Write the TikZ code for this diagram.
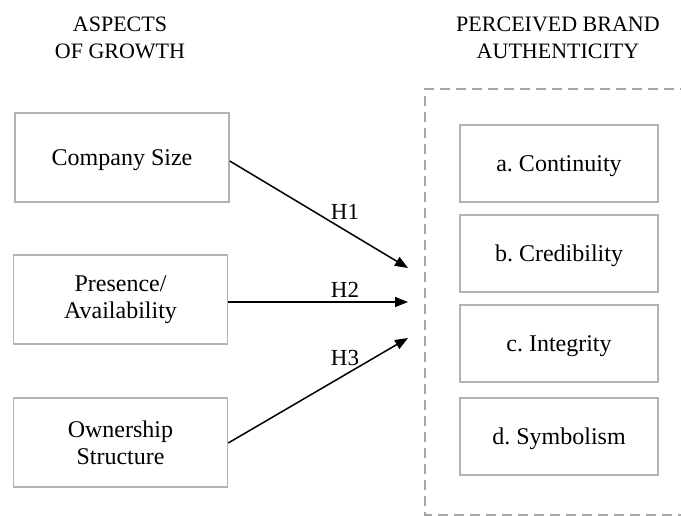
\documentclass[tikz,border=0pt]{standalone}
\usepackage{fontspec}
\setmainfont{Liberation Serif}
\frenchspacing
\usetikzlibrary{arrows.meta}
\definecolor{boxgray}{HTML}{B3B3B3}
\definecolor{dashgray}{HTML}{A6A6A6}
\tikzset{
  boxfont/.style={font=\fontsize{24}{27}\selectfont},
  lbox/.style={draw=boxgray, line width=1.5pt, minimum width=214pt, minimum height=89pt, align=center, inner sep=0pt, boxfont},
  rbox/.style={draw=boxgray, line width=1.5pt, minimum width=198pt, minimum height=77pt, align=center, inner sep=0pt, boxfont, text depth=0pt},
  head/.style={align=center, font=\fontsize{22}{27}\selectfont, inner sep=0pt},
  hlabel/.style={font=\fontsize{23}{27}\selectfont, inner sep=0pt},
  arr/.style={line width=1.5pt, -{Triangle[length=13pt,width=10pt]}},
}
\begin{document}
\begin{tikzpicture}[x=1pt,y=-1pt]
\useasboundingbox (0,0) rectangle (681,516);
\fill[white] (0,0) rectangle (681,516);
% headings
\node[head] (h1) at (120,38) {ASPECTS\\OF GROWTH};
\node[head] (h2) at (558,38) {PERCEIVED BRAND\\AUTHENTICITY};
% dashed container
\draw[dashgray, line width=1.5pt, dash pattern=on 10pt off 6pt] (690,89) -- (425,89) -- (425,515) -- (690,515);
% left boxes
\node[lbox, text depth=0pt] (size) at (122,157.5) {Company Size};
\node[lbox] (pres) at (120.5,299.5) {Presence/\\Availability};
\node[lbox] (own) at (120.5,442.5) {Ownership\\Structure};
% right boxes
\node[rbox] (a) at (559,163.5) {a. Continuity};
\node[rbox] (b) at (559,253.5) {b. Credibility};
\node[rbox] (c) at (559,343.5) {c. Integrity};
\node[rbox] (d) at (559,436.5) {d. Symbolism};
% arrow targets
\coordinate (t1) at (408,268);
\coordinate (t2) at (408,302);
\coordinate (t3) at (408,338);
\draw[arr] (size.east |- 0,161) -- (t1);
\draw[arr] (pres.east |- 0,302) -- (t2);
\draw[arr] (own.east |- 0,443) -- (t3);
\node[hlabel] (l1) at (345,212) {H1};
\node[hlabel] (l2) at (345,290) {H2};
\node[hlabel] (l3) at (345,358) {H3};
\end{tikzpicture}
\end{document}
